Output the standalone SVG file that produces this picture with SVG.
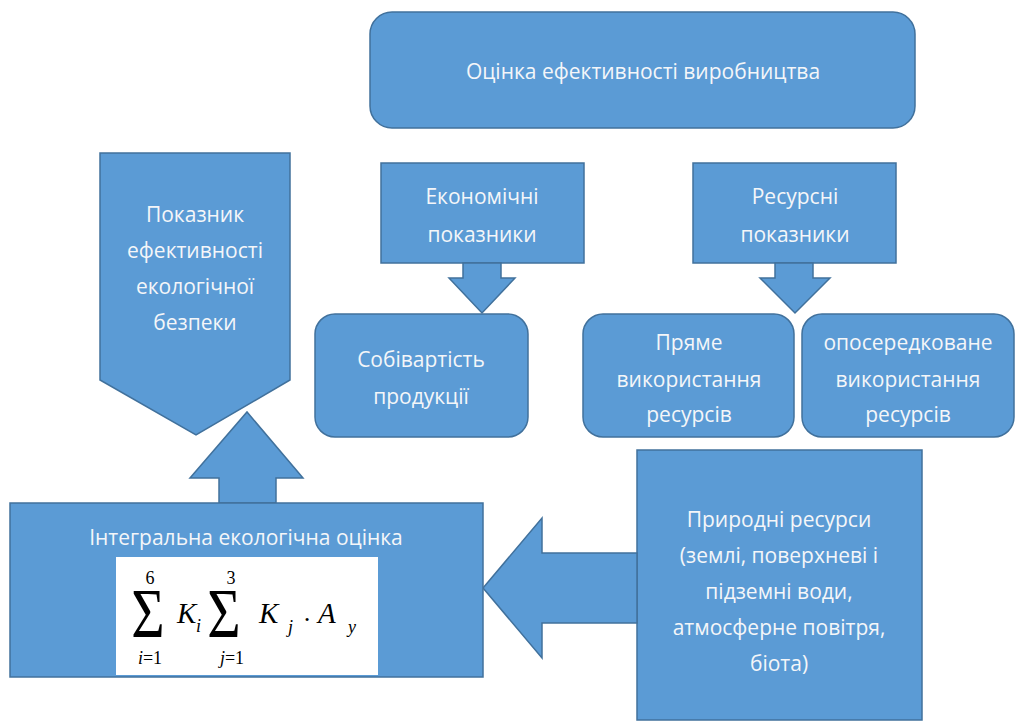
<svg xmlns="http://www.w3.org/2000/svg" width="1017" height="725" viewBox="0 0 1017 725">
<style>
.sh{fill:#5B9BD5;stroke:#41719C;stroke-width:1.5;stroke-linejoin:miter}
.t{font-family:"Open Sans","Noto Sans","DejaVu Sans",sans-serif;font-size:21px;fill:#F4F6F9;text-anchor:middle}
.m{font-family:"Liberation Serif","Times New Roman",serif;fill:#000}
.mi{font-style:italic}
</style>
<rect width="1017" height="725" fill="#FFFFFF"/>
<g id="top">
<rect class="sh" x="370" y="12" width="545" height="116" rx="22"/>
<text class="t" x="643" y="79">Оцінка ефективності виробництва</text>
</g>
<g id="economic">
<rect class="sh" x="381" y="163" width="203" height="100"/>
<text class="t" x="482" y="204">Економічні</text>
<text class="t" x="482" y="242">показники</text>
</g>
<g id="resource">
<rect class="sh" x="693" y="163" width="203" height="100"/>
<text class="t" x="795" y="204">Ресурсні</text>
<text class="t" x="795" y="242">показники</text>
</g>
<g id="cost">
<rect class="sh" x="315" y="314" width="213" height="123" rx="20"/>
<text class="t" x="421" y="367">Собівартість</text>
<text class="t" x="421" y="404">продукції</text>
</g>
<g id="direct">
<rect class="sh" x="583" y="314" width="211" height="123" rx="20"/>
<text class="t" x="689" y="350">Пряме</text>
<text class="t" x="689" y="387">використання</text>
<text class="t" x="689" y="422">ресурсів</text>
</g>
<g id="indirect">
<rect class="sh" x="802" y="314" width="212" height="123" rx="20"/>
<text class="t" x="908" y="350">опосередковане</text>
<text class="t" x="908" y="387">використання</text>
<text class="t" x="908" y="422">ресурсів</text>
</g>
<g id="indicator">
<polygon class="sh" points="100,153 290,153 290,380 196,435 100,380"/>
<text class="t" x="195" y="222">Показник</text>
<text class="t" x="195" y="258">ефективності</text>
<text class="t" x="195" y="294">екологічної</text>
<text class="t" x="195" y="330">безпеки</text>
</g>
<g id="natural">
<rect class="sh" x="637" y="450" width="285" height="270"/>
<text class="t" x="779" y="527">Природні ресурси</text>
<text class="t" x="779" y="563">(землі, поверхневі і</text>
<text class="t" x="779" y="599">підземні води,</text>
<text class="t" x="779" y="635">атмосферне повітря,</text>
<text class="t" x="779" y="671">біота)</text>
</g>
<g id="connectors">
<polygon class="sh" points="463,263 501,263 501,278 515,278 482,313 449,278 463,278"/>
<polygon class="sh" points="775,263 813,263 813,278 830,278 795,313 760,278 775,278"/>
<polygon class="sh" points="219,503 219,478 190,478 247,412 303,478 276,478 276,503"/>
<polygon class="sh" points="637,553 542,553 542,518 483,588 542,658 542,623 637,623"/>
</g>
<g id="integral">
<rect class="sh" x="10" y="503" width="473" height="174"/>
<text class="t" x="246" y="545">Інтегральна екологічна оцінка</text>
<rect x="116" y="557" width="262" height="118" fill="#FFFFFF"/>
<g class="m">
<text transform="translate(148,637) scale(0.82,1)" font-size="70" text-anchor="middle">Σ</text>
<text x="150" y="584" font-size="18" text-anchor="middle">6</text>
<text x="150" y="664" font-size="18" text-anchor="middle"><tspan class="mi">i</tspan>=1</text>
<text x="177" y="623" font-size="29" class="mi">K</text>
<text x="196" y="632" font-size="18" class="mi">i</text>
<text transform="translate(224,637) scale(0.82,1)" font-size="70" text-anchor="middle">Σ</text>
<text x="231" y="584" font-size="18" text-anchor="middle">3</text>
<text x="232" y="664" font-size="18" text-anchor="middle"><tspan class="mi">j</tspan>=1</text>
<text x="259" y="623" font-size="29" class="mi">K</text>
<text x="288" y="633" font-size="18" class="mi">j</text>
<text x="307" y="628" font-size="26" text-anchor="middle">·</text>
<text x="318" y="623" font-size="29" class="mi">A</text>
<text x="348" y="633" font-size="18" class="mi">y</text>
</g>
</g>
</svg>
